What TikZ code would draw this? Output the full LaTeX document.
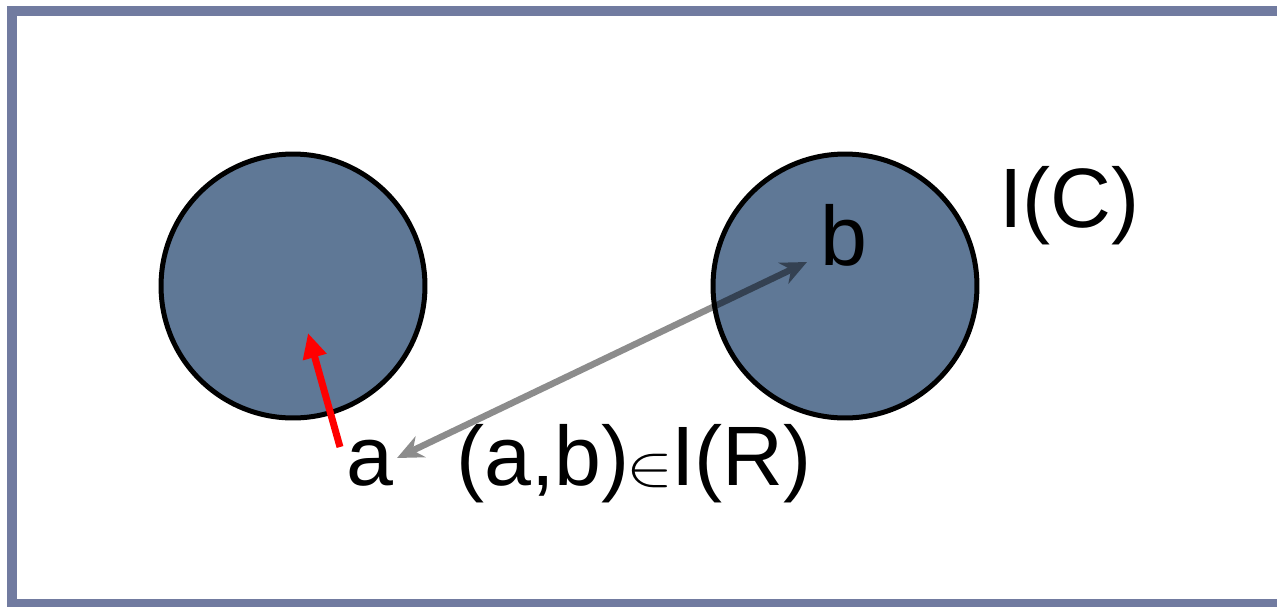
\documentclass[tikz,border=0pt]{standalone}
\usepackage{fontspec}
\setmainfont{Liberation Sans}
\usetikzlibrary{arrows.meta}
\definecolor{framegray}{HTML}{717BA0}
\definecolor{blobblue}{HTML}{5F7896}
\newcommand{\elemsign}{\scalebox{4.0}[3.3]{\fontsize{10}{12}\selectfont${\in}$}}

\begin{document}
\begin{tikzpicture}[>=Stealth, x=0.02cm, y=-0.02cm,
    blob/.style={circle, draw=black, line width=0.1cm, fill=blobblue, minimum size=5.28cm, inner sep=0pt},
    lbl/.style={font=\fontsize{48}{58}\selectfont, inner sep=0pt, anchor=base west}]
    \useasboundingbox (0,0) rectangle (1277,606);

    % Frame
    \draw[framegray, line width=0.2cm, line join=miter] (1300,11) -- (12,11) -- (12,604) -- (1300,604);

    % Sets
    \node[blob] (cl) at (293,286) {};
    \node[blob] (cr) at (845,286) {};

    % Labels
    \node[lbl] (la) at (346,485) {a};
    \node[lbl] (lb) at (820,265) {b};
    \node[lbl] (lic) at (999,227) {I(C)};
    \node[lbl] (lir) at (456,485) {(a,b)\kern-2pt\elemsign\kern-1pt I(R)};

    % Arrows
    \coordinate (redtail) at (340,447);
    \coordinate (redtip) at (308,333);
    \draw[-{Triangle[length=0.5cm, width=0.46cm]}, red, line width=0.14cm] (redtail) -- (redtip);

    \coordinate (gtail) at (397,458);
    \coordinate (ghead) at (807,262);
    \begin{scope}[transparency group, opacity=0.45]
        \draw[{Stealth[length=0.52cm, width=0.46cm]}-{Stealth[length=0.52cm, width=0.46cm]}, black, line width=0.13cm] (gtail) -- (ghead);
    \end{scope}
\end{tikzpicture}
\end{document}
